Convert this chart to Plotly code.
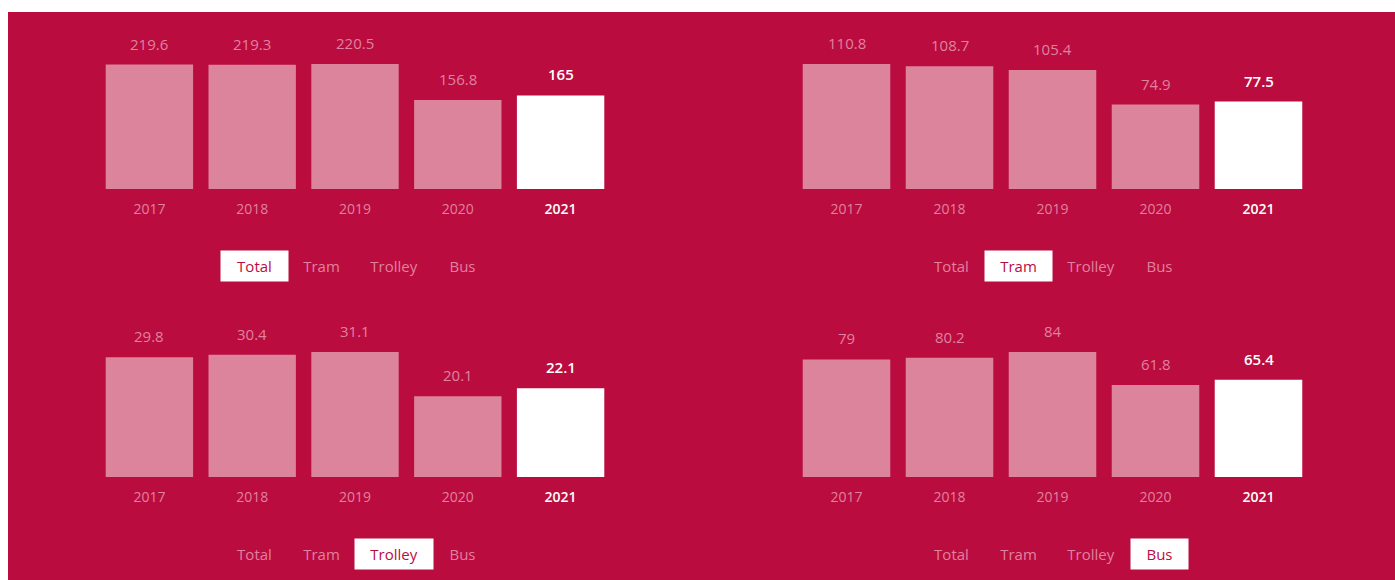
import plotly.graph_objects as go

years = [2017, 2018, 2019, 2020, 2021]
total = [219.6, 219.3, 220.5, 156.8, 165]
tram = [110.8, 108.7, 105.4, 74.9, 77.5]
trolley = [29.8, 30.4, 31.1, 20.1, 22.1]
bus = [79, 80.2, 84, 61.8, 65.4]
modes = ["Total", "Tram", "Trolley", "Bus"]

BG = "#BA0C3F"
BAR = "#DC849C"
PINK = "#E0829F"
FONT = "Segoe UI, Open Sans, sans-serif"

W, H = 1395, 580
ML, MT = 8, 12
PW, PH = W - ML, H - MT


def px_x(x):
    return (x - ML) / PW


def px_y(y):
    return 1 - (y - MT) / PH


# (series, x domain px, baseline px, selected button)
panels = [
    (total, (98, 612), 189, "Total"),
    (tram, (795, 1310), 189, "Tram"),
    (trolley, (98, 612), 477, "Trolley"),
    (bus, (795, 1310), 477, "Bus"),
]
button_x = [254, 321, 394, 462]
button_w = [67, 67, 78, 57]

fig = go.Figure()
annotations = []
layout_axes = {}

for i, (vals, (x0, x1), base, sel) in enumerate(panels, start=1):
    xa = "x" if i == 1 else f"x{i}"
    ya = "y" if i == 1 else f"y{i}"
    colors = [BAR] * (len(vals) - 1) + ["white"]
    fig.add_trace(go.Bar(x=years, y=vals, marker_color=colors, marker_line_width=0,
                         xaxis=xa, yaxis=ya, showlegend=False, hoverinfo="x+y"))

    top = base - 125 * 1.25
    ticktext = [str(y) for y in years[:-1]] + [
        f"<span style='color:white;font-weight:600'>{years[-1]}</span>"]
    layout_axes["xaxis" if i == 1 else f"xaxis{i}"] = dict(
        domain=[px_x(x0), px_x(x1)], anchor=ya, range=[years[0] - 0.5, years[-1] + 0.5],
        showgrid=False, zeroline=False, showline=False, ticks="",
        tickmode="array", tickvals=years, ticktext=ticktext, ticklabelstandoff=10,
        tickfont=dict(family=FONT, size=14, color=PINK), fixedrange=True)
    layout_axes["yaxis" if i == 1 else f"yaxis{i}"] = dict(
        domain=[px_y(base), px_y(top)], anchor=xa, range=[0, max(vals) * 1.25],
        visible=False, fixedrange=True)

    for j, (yr, v) in enumerate(zip(years, vals)):
        last = j == len(vals) - 1
        annotations.append(dict(
            x=yr, y=v, xref=xa, yref=ya,
            text=f"<span style='font-weight:600'>{v:g}</span>" if last else f"{v:g}",
            showarrow=False, yanchor="bottom", yshift=9,
            font=dict(family=FONT, size=15, color="white" if last else PINK)))

    # mode switcher row under each chart
    offset = 0 if x0 < 400 else 697
    by = base + 77
    for name, bx, bw in zip(modes, button_x, button_w):
        active = name == sel
        annotations.append(dict(
            x=px_x(bx + offset), y=px_y(by), xref="paper", yref="paper",
            text=name, showarrow=False, xanchor="center", yanchor="middle",
            width=bw - 10, height=20, borderpad=5,
            bgcolor="white" if active else "rgba(0,0,0,0)",
            font=dict(family=FONT, size=15, color=BG if active else PINK)))

fig.update_layout(
    width=W, height=H,
    margin=dict(l=ML, r=0, t=MT, b=0),
    paper_bgcolor="white", plot_bgcolor=BG,
    bargap=0.15,
    annotations=annotations,
    shapes=[dict(type="rect", xref="paper", yref="paper", x0=0, x1=1, y0=0, y1=1,
                 fillcolor=BG, line_width=0, layer="below")],
    **layout_axes,
)

fig.write_html("out.html", config={"displayModeBar": False},
               post_script="document.body.style.margin='0';document.body.style.overflow='hidden';")
